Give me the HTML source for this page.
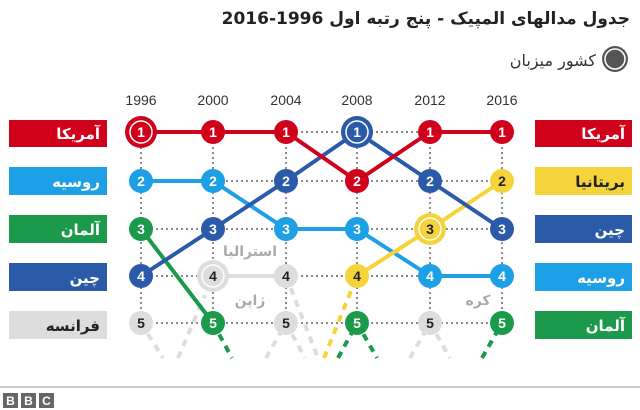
<!DOCTYPE html>
<html><head><meta charset="utf-8"><style>
html,body{margin:0;padding:0;background:#fff;width:640px;height:410px;overflow:hidden}
svg{display:block}
text{font-family:"Liberation Sans","DejaVu Sans",sans-serif}
.fa{font-family:"DejaVu Sans","Noto Sans CJK SC",sans-serif;font-weight:bold}
</style></head><body>
<svg width="640" height="410" viewBox="0 0 640 410" xmlns="http://www.w3.org/2000/svg">
<text x="630" y="24" text-anchor="start" class="fa" font-size="17" fill="#222" direction="rtl">جدول مدالهای المپیک - پنج رتبه اول 1996-2016</text>
<circle cx="615" cy="59" r="13" fill="#555"/><circle cx="615" cy="59" r="10" fill="none" stroke="#fff" stroke-width="1.5"/>
<text x="596" y="66" text-anchor="start" font-size="16" fill="#333" direction="rtl" style="font-family:'DejaVu Sans',sans-serif">کشور میزبان</text>
<g font-size="14" fill="#333" text-anchor="middle">
<text x="141" y="105">1996</text><text x="213" y="105">2000</text><text x="286" y="105">2004</text><text x="357" y="105">2008</text><text x="430" y="105">2012</text><text x="502" y="105">2016</text>
</g>
<g stroke="#444" stroke-width="1.2" stroke-dasharray="2,3">
<line x1="141" y1="132" x2="502" y2="132"/><line x1="141" y1="181" x2="502" y2="181"/><line x1="141" y1="229" x2="502" y2="229"/><line x1="141" y1="276" x2="502" y2="276"/><line x1="141" y1="323" x2="502" y2="323"/>
<line x1="141" y1="132" x2="141" y2="323"/><line x1="213" y1="132" x2="213" y2="323"/><line x1="286" y1="132" x2="286" y2="323"/><line x1="357" y1="132" x2="357" y2="323"/><line x1="430" y1="132" x2="430" y2="323"/><line x1="502" y1="132" x2="502" y2="323"/>
</g>
<g stroke-width="4" stroke-dasharray="7,6" fill="none">
<line x1="141" y1="323" x2="163" y2="358" stroke="#ddd"/>
<line x1="178" y1="358" x2="205" y2="295" stroke="#ddd"/>
<line x1="266" y1="358" x2="286" y2="323" stroke="#ddd"/>
<line x1="286" y1="323" x2="305" y2="358" stroke="#ddd"/>
<line x1="286" y1="276" x2="318" y2="358" stroke="#ddd"/>
<line x1="410" y1="358" x2="430" y2="323" stroke="#ddd"/>
<line x1="430" y1="323" x2="450" y2="358" stroke="#ddd"/>
<line x1="324" y1="358" x2="357" y2="276" stroke="#f5d33a"/>
<line x1="338" y1="358" x2="357" y2="323" stroke="#1a9a4a"/>
<line x1="357" y1="323" x2="377" y2="358" stroke="#1a9a4a"/>
<line x1="482" y1="358" x2="502" y2="323" stroke="#1a9a4a"/>
<line x1="213" y1="323" x2="232" y2="358" stroke="#1a9a4a"/>
</g>
<g stroke-width="4" fill="none">
<polyline points="213,276 286,276" stroke="#ddd"/>
<polyline points="141,181 213,181 286,229 357,229 430,276 502,276" stroke="#1ea0e6"/>
<polyline points="357,276 430,229 502,181" stroke="#f5d33a"/>
<polyline points="141,229 213,323" stroke="#1a9a4a"/>
<polyline points="141,276 213,229 286,181 357,132 430,181 502,229" stroke="#2b5ba8"/>
<polyline points="141,132 213,132 286,132 357,181 430,132 502,132" stroke="#d0021b"/>
</g>
<g font-size="14" font-weight="bold" text-anchor="middle">
<circle cx="141" cy="132" r="16" fill="#d0021b"/><circle cx="141" cy="132" r="11" fill="none" stroke="#fff" stroke-width="1.5"/><text x="141" y="137" fill="#fff">1</text>
<circle cx="213" cy="132" r="12" fill="#d0021b"/><text x="213" y="137" fill="#fff">1</text>
<circle cx="286" cy="132" r="12" fill="#d0021b"/><text x="286" y="137" fill="#fff">1</text>
<circle cx="357" cy="181" r="12" fill="#d0021b"/><text x="357" y="186" fill="#fff">2</text>
<circle cx="430" cy="132" r="12" fill="#d0021b"/><text x="430" y="137" fill="#fff">1</text>
<circle cx="502" cy="132" r="12" fill="#d0021b"/><text x="502" y="137" fill="#fff">1</text>
<circle cx="141" cy="181" r="12" fill="#1ea0e6"/><text x="141" y="186" fill="#fff">2</text>
<circle cx="213" cy="181" r="12" fill="#1ea0e6"/><text x="213" y="186" fill="#fff">2</text>
<circle cx="286" cy="229" r="12" fill="#1ea0e6"/><text x="286" y="234" fill="#fff">3</text>
<circle cx="357" cy="229" r="12" fill="#1ea0e6"/><text x="357" y="234" fill="#fff">3</text>
<circle cx="430" cy="276" r="12" fill="#1ea0e6"/><text x="430" y="281" fill="#fff">4</text>
<circle cx="502" cy="276" r="12" fill="#1ea0e6"/><text x="502" y="281" fill="#fff">4</text>
<circle cx="141" cy="276" r="12" fill="#2b5ba8"/><text x="141" y="281" fill="#fff">4</text>
<circle cx="213" cy="229" r="12" fill="#2b5ba8"/><text x="213" y="234" fill="#fff">3</text>
<circle cx="286" cy="181" r="12" fill="#2b5ba8"/><text x="286" y="186" fill="#fff">2</text>
<circle cx="357" cy="132" r="16" fill="#2b5ba8"/><circle cx="357" cy="132" r="11" fill="none" stroke="#fff" stroke-width="1.5"/><text x="357" y="137" fill="#fff">1</text>
<circle cx="430" cy="181" r="12" fill="#2b5ba8"/><text x="430" y="186" fill="#fff">2</text>
<circle cx="502" cy="229" r="12" fill="#2b5ba8"/><text x="502" y="234" fill="#fff">3</text>
<circle cx="141" cy="229" r="12" fill="#1a9a4a"/><text x="141" y="234" fill="#fff">3</text>
<circle cx="213" cy="323" r="12" fill="#1a9a4a"/><text x="213" y="328" fill="#fff">5</text>
<circle cx="357" cy="323" r="12" fill="#1a9a4a"/><text x="357" y="328" fill="#fff">5</text>
<circle cx="502" cy="323" r="12" fill="#1a9a4a"/><text x="502" y="328" fill="#fff">5</text>
<circle cx="357" cy="276" r="12" fill="#f5d33a"/><text x="357" y="281" fill="#222">4</text>
<circle cx="430" cy="229" r="16" fill="#f5d33a"/><circle cx="430" cy="229" r="11" fill="none" stroke="#fff" stroke-width="1.5"/><text x="430" y="234" fill="#222">3</text>
<circle cx="502" cy="181" r="12" fill="#f5d33a"/><text x="502" y="186" fill="#222">2</text>
<circle cx="213" cy="276" r="16" fill="#ddd"/><circle cx="213" cy="276" r="11" fill="none" stroke="#fff" stroke-width="1.5"/><text x="213" y="281" fill="#222">4</text>
<circle cx="286" cy="276" r="12" fill="#ddd"/><text x="286" y="281" fill="#222">4</text>
<circle cx="141" cy="323" r="12" fill="#ddd"/><text x="141" y="328" fill="#222">5</text>
<circle cx="286" cy="323" r="12" fill="#ddd"/><text x="286" y="328" fill="#222">5</text>
<circle cx="430" cy="323" r="12" fill="#ddd"/><text x="430" y="328" fill="#222">5</text>
</g>
<g class="fa" font-size="14" fill="#aaa" text-anchor="middle" direction="rtl">
<text x="250" y="256">استرالیا</text><text x="250" y="305">ژاپن</text><text x="478" y="305">کره</text>
</g>
<rect x="9" y="120" width="98" height="27" fill="#d0021b"/>
<rect x="9" y="167" width="98" height="28" fill="#1ea0e6"/>
<rect x="9" y="215" width="98" height="28" fill="#1a9a4a"/>
<rect x="9" y="263" width="98" height="28" fill="#2b5ba8"/>
<rect x="9" y="311" width="98" height="28" fill="#ddd"/>
<g class="fa" font-size="15" text-anchor="start" direction="rtl">
<text x="100" y="139" fill="#fff">آمریکا</text><text x="100" y="187" fill="#fff">روسیه</text><text x="100" y="235" fill="#fff">آلمان</text><text x="100" y="283" fill="#fff">چین</text><text x="100" y="331" fill="#222">فرانسه</text>
</g>
<rect x="535" y="120" width="97" height="27" fill="#d0021b"/>
<rect x="535" y="167" width="97" height="28" fill="#f5d33a"/>
<rect x="535" y="215" width="97" height="28" fill="#2b5ba8"/>
<rect x="535" y="263" width="97" height="28" fill="#1ea0e6"/>
<rect x="535" y="311" width="97" height="28" fill="#1a9a4a"/>
<g class="fa" font-size="15" text-anchor="start" direction="rtl">
<text x="625" y="139" fill="#fff">آمریکا</text><text x="625" y="187" fill="#222">بریتانیا</text><text x="625" y="235" fill="#fff">چین</text><text x="625" y="283" fill="#fff">روسیه</text><text x="625" y="331" fill="#fff">آلمان</text>
</g>
<line x1="0" y1="387" x2="640" y2="387" stroke="#bbb" stroke-width="1.5"/>
<g font-size="12" font-weight="bold" fill="#fff" text-anchor="middle">
<rect x="3" y="393" width="15" height="15" fill="#666"/><text x="10.5" y="405">B</text>
<rect x="21" y="393" width="15" height="15" fill="#666"/><text x="28.5" y="405">B</text>
<rect x="39" y="393" width="15" height="15" fill="#666"/><text x="46.5" y="405">C</text>
</g>
</svg>
</body></html>
